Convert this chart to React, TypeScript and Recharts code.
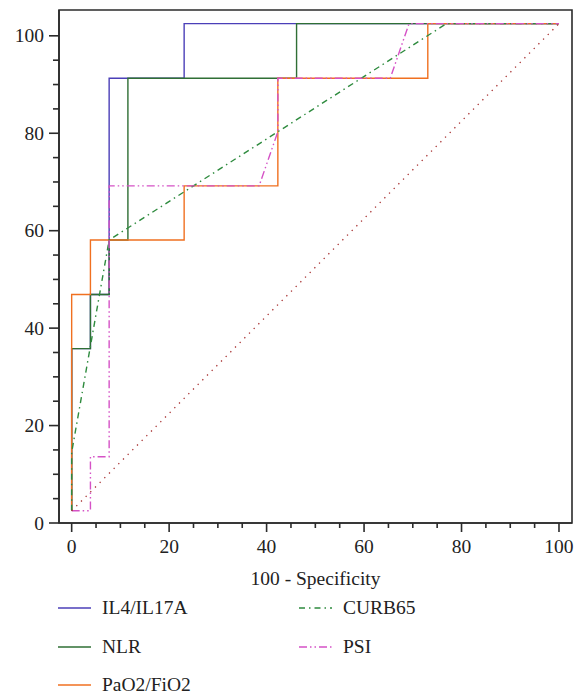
import React from "react";
import { LineChart, Line, XAxis, YAxis, ReferenceArea } from "recharts";

// ROC points: x = 100 - Specificity, y = Sensitivity
const il4Fpr = [0, 0, 3.85, 3.85, 7.69, 7.69, 23.08, 23.08, 100];
const il4Sens = [2.5, 35.8, 35.8, 46.9, 46.9, 91.3, 91.3, 102.5, 102.5];

const nlrFpr = [0, 0, 3.85, 3.85, 7.69, 7.69, 11.54, 11.54, 46.15, 46.15, 100];
const nlrSens = [2.5, 35.8, 35.8, 46.9, 46.9, 58.1, 58.1, 91.3, 91.3, 102.5, 102.5];

const pfFpr = [0, 0, 3.85, 3.85, 23.08, 23.08, 42.31, 42.31, 73.08, 73.08, 100];
const pfSens = [2.5, 46.9, 46.9, 58.1, 58.1, 69.2, 69.2, 91.3, 91.3, 102.5, 102.5];

const curbFpr = [0, 0, 7.69, 76.9, 100];
const curbSens = [2.5, 14.5, 58.1, 102.5, 102.5];

const psiFpr = [0, 3.85, 3.85, 7.69, 7.69, 38.46, 42.31, 42.31, 65.38, 69.23, 100];
const psiSens = [2.5, 2.5, 13.6, 13.6, 69.2, 69.2, 80.3, 91.3, 91.3, 102.5, 102.5];

const refFpr = [0, 100];
const refSens = [2.5, 102.5];

const xTicks = [0, 5, 10, 15, 20, 25, 30, 35, 40, 45, 50, 55, 60, 65, 70, 75, 80, 85, 90, 95, 100];
const yTicks = [0, 5, 10, 15, 20, 25, 30, 35, 40, 45, 50, 55, 60, 65, 70, 75, 80, 85, 90, 95, 100];

const zip = (xs: number[], ys: number[]) => xs.map((x, i) => ({ x, y: ys[i] }));

const FONT = "'Liberation Serif', 'Times New Roman', serif";
const AXIS = "#2b2b2b";

const series = [
  { name: "IL4/IL17A", data: zip(il4Fpr, il4Sens), color: "#4b3fb8", dash: undefined },
  { name: "NLR", data: zip(nlrFpr, nlrSens), color: "#2f6f35", dash: undefined },
  { name: "PaO2/FiO2", data: zip(pfFpr, pfSens), color: "#f07020", dash: undefined },
  { name: "CURB65", data: zip(curbFpr, curbSens), color: "#2e8b3e", dash: "6 4 1.5 4" },
  { name: "PSI", data: zip(psiFpr, psiSens), color: "#d552c6", dash: "8 3 1.5 3 1.5 3" },
];

const textStyle = { fontFamily: FONT, fontSize: 19.5, fill: "#222" };

function XTick(props: any) {
  const { x, y, payload } = props;
  const v = payload.value;
  const major = v % 20 === 0;
  return (
    <g>
      <line x1={x} x2={x} y1={y} y2={y + (major ? 9 : 5)} stroke={AXIS} strokeWidth={1.6} />
      {major && (
        <text x={x} y={y + 30} textAnchor="middle" style={textStyle}>
          {v}
        </text>
      )}
    </g>
  );
}

function YTick(props: any) {
  const { x, y, payload } = props;
  const v = payload.value;
  const major = v % 20 === 0;
  return (
    <g>
      <line x1={x - (major ? 10 : 6)} x2={x} y1={y} y2={y} stroke={AXIS} strokeWidth={1.6} />
      {major && (
        <text x={x - 15} y={y + 6.5} textAnchor="end" style={textStyle}>
          {v}
        </text>
      )}
    </g>
  );
}

function AxisTitle(props: any) {
  const { viewBox } = props;
  const cx = viewBox.x + viewBox.width / 2;
  return (
    <text x={cx} y={viewBox.y + 62} textAnchor="middle" style={textStyle}>
      100 - Specificity
    </text>
  );
}

function LegendItem({ s, left, top }: any) {
  return (
    <div style={{ position: "absolute", left, top, height: 20, display: "flex", alignItems: "center" }}>
      <svg width={34} height={20}>
        <line x1={0} x2={33} y1={10} y2={10} stroke={s.color} strokeWidth={1.6} strokeDasharray={s.dash} />
      </svg>
      <span style={{ marginLeft: 10, fontSize: 19.5, fontFamily: FONT, color: "#222", whiteSpace: "nowrap" }}>
        {s.name}
      </span>
    </div>
  );
}

export default function App() {
  return (
    <div style={{ position: "absolute", left: 0, top: 0, width: 574, height: 694, background: "#fff" }}>
      <LineChart width={574} height={600} margin={{ top: 10, right: 2, left: 0, bottom: 0 }}>
        <XAxis
          type="number"
          dataKey="x"
          domain={[-2.6, 102.67]}
          allowDataOverflow
          ticks={xTicks}
          interval={0}
          height={77}
          tickSize={0}
          tickMargin={0}
          tickLine={false}
          tick={<XTick />}
          axisLine={{ stroke: AXIS, strokeWidth: 1.6 }}
          label={<AxisTitle />}
        />
        <YAxis
          type="number"
          dataKey="y"
          domain={[0, 105.3]}
          allowDataOverflow
          ticks={yTicks}
          interval={0}
          width={59}
          tickSize={0}
          tickMargin={0}
          tickLine={false}
          tick={<YTick />}
          axisLine={{ stroke: AXIS, strokeWidth: 1.6 }}
        />
        <ReferenceArea x1={-2.6} x2={102.67} y1={0} y2={105.3} fill="none" stroke={AXIS} strokeWidth={1.6} />
        {series.map((s) => (
          <Line
            key={s.name}
            data={s.data}
            dataKey="y"
            type="linear"
            stroke={s.color}
            strokeWidth={1.4}
            strokeDasharray={s.dash}
            dot={false}
            isAnimationActive={false}
          />
        ))}
        <Line
          data={zip(refFpr, refSens)}
          dataKey="y"
          type="linear"
          stroke="#a83232"
          strokeWidth={1.3}
          strokeDasharray="1.3 5.3"
          dot={false}
          isAnimationActive={false}
        />
      </LineChart>
      <LegendItem s={series[0]} left={58} top={598} />
      <LegendItem s={series[1]} left={58} top={637} />
      <LegendItem s={series[2]} left={58} top={675} />
      <LegendItem s={series[3]} left={299} top={598} />
      <LegendItem s={series[4]} left={299} top={637} />
    </div>
  );
}
